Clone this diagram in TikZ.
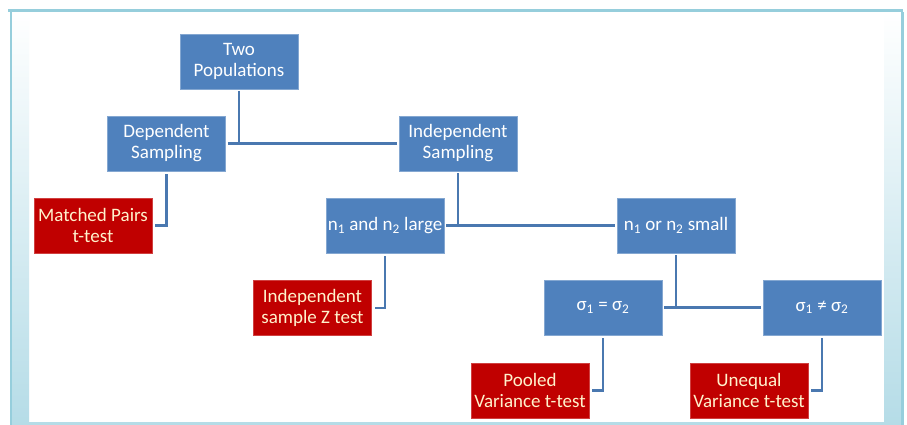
\documentclass[tikz,border=0pt]{standalone}
\usepackage{fontspec}
\setmainfont{Carlito}
\usetikzlibrary{calc}
\definecolor{boxblue}{HTML}{4F81BD}
\definecolor{boxred}{HTML}{C00000}
\definecolor{linkblue}{HTML}{4A78B0}
\definecolor{frameblue}{HTML}{B5DCE7}
\definecolor{frameline}{HTML}{96CEDC}
\definecolor{redtext}{HTML}{FFF2CC}
\tikzset{
  bluebox/.style={rectangle, fill=boxblue, draw=boxblue!70!white, line width=0.7pt,
    minimum width=118pt, minimum height=55pt, inner sep=0pt, align=center,
    text=white, font=\fontsize{19}{21}\selectfont},
  redbox/.style={bluebox, fill=boxred, draw=boxred!75!white, text=redtext},
  link/.style={draw=linkblue, line width=2.4pt},
}
\begin{document}
\begin{tikzpicture}[x=1pt,y=-1pt]
\useasboundingbox (0,0) rectangle (907,425);
% frame
\fill[white] (0,0) rectangle (907,425);
\shade[top color=white, bottom color=frameblue] (12,12) rectangle (29,425);
\shade[top color=white, bottom color=frameblue] (884,12) rectangle (901,425);
\fill[frameline] (10,12) rectangle (12,425);
\fill[frameline] (901,12) rectangle (904,425);
\fill[frameline] (8,9) rectangle (903,12);
\fill[frameblue] (12,422) rectangle (901,425);
% nodes
\node[bluebox] (two) at (239,61.5) {Two\\Populations};
\node[bluebox] (dep) at (166.5,143.5) {Dependent\\Sampling};
\node[bluebox] (ind) at (458,143.5) {Independent\\Sampling};
\node[redbox] (mp) at (93,225.5) {Matched Pairs\\t-test};
\node[bluebox] (large) at (385,225.5) {n\textsubscript{1} and n\textsubscript{2} large};
\node[bluebox] (small) at (676,225.5) {n\textsubscript{1} or n\textsubscript{2} small};
\node[redbox] (z) at (312.5,308) {Independent\\sample Z test};
\node[bluebox] (eq) at (603,307.5) {σ\textsubscript{1} = σ\textsubscript{2}};
\node[bluebox] (neq) at (822,307.5) {σ\textsubscript{1} ≠ σ\textsubscript{2}};
\node[redbox] (pooled) at (530,390.5) {Pooled\\Variance t-test};
\node[redbox] (uneq) at (749,390.5) {Unequal\\Variance t-test};
% connectors
\draw[link, shorten <=2pt, shorten >=2pt] (dep.east) -- (ind.west);
\draw[link, shorten <=2pt] (two.south) -- (two.south |- dep.east);
\draw[link, shorten <=2pt, shorten >=2pt] (large.east) -- (small.west);
\draw[link, shorten <=2pt] (ind.south) -- (ind.south |- large.east);
\draw[link, shorten <=2pt, shorten >=2pt] (eq.east) -- (neq.west);
\draw[link, shorten <=2pt] (small.south) -- (small.south |- eq.east);
\draw[link, shorten <=3pt, shorten >=3pt] (dep.south) |- (mp.east);
\draw[link, shorten <=3pt, shorten >=3pt] (large.south) |- (z.east);
\draw[link, shorten <=3pt, shorten >=3pt] (eq.south) |- (pooled.east);
\draw[link, shorten <=3pt, shorten >=3pt] (neq.south) |- (uneq.east);
\end{tikzpicture}
\end{document}
